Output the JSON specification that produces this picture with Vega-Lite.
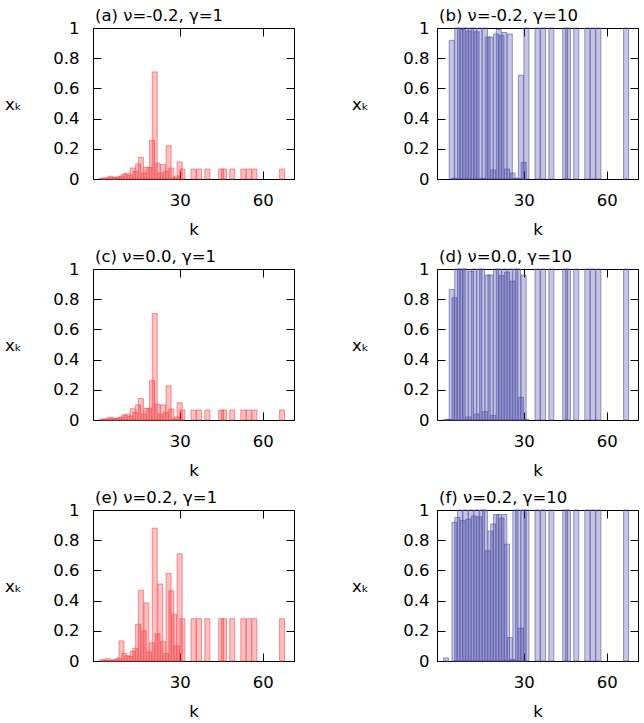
{
"$schema": "https://vega.github.io/schema/vega-lite/v6.json",
"padding": {"left": 4, "top": 7, "right": 0, "bottom": 0},
"data": {"values": [
{"p":"a","k":2,"x":0.007},{"p":"a","k":3,"x":0.004},{"p":"a","k":4,"x":0.008},{"p":"a","k":5,"x":0.018},{"p":"a","k":6,"x":0.01},{"p":"a","k":7,"x":0.011},{"p":"a","k":8,"x":0.014},{"p":"a","k":9,"x":0.02},{"p":"a","k":10,"x":0.033},{"p":"a","k":11,"x":0.037},{"p":"a","k":12,"x":0.025},{"p":"a","k":13,"x":0.073},{"p":"a","k":14,"x":0.05},{"p":"a","k":15,"x":0.1},{"p":"a","k":16,"x":0.143},{"p":"a","k":17,"x":0.04},{"p":"a","k":18,"x":0.077},{"p":"a","k":19,"x":0.077},{"p":"a","k":20,"x":0.256},{"p":"a","k":21,"x":0.709},{"p":"a","k":22,"x":0.104},{"p":"a","k":23,"x":0.04},{"p":"a","k":24,"x":0.095},{"p":"a","k":25,"x":0.05},{"p":"a","k":26,"x":0.22},{"p":"a","k":27,"x":0.073},{"p":"a","k":28,"x":0.007},{"p":"a","k":29,"x":0.02},{"p":"a","k":30,"x":0.113},{"p":"a","k":31,"x":0.066},{"p":"a","k":35,"x":0.066},{"p":"a","k":37,"x":0.066},{"p":"a","k":40,"x":0.066},{"p":"a","k":45,"x":0.066},{"p":"a","k":46,"x":0.066},{"p":"a","k":49,"x":0.066},{"p":"a","k":53,"x":0.066},{"p":"a","k":55,"x":0.066},{"p":"a","k":57,"x":0.066},{"p":"a","k":67,"x":0.066},
{"p":"c","k":2,"x":0.007},{"p":"c","k":3,"x":0.004},{"p":"c","k":4,"x":0.008},{"p":"c","k":5,"x":0.018},{"p":"c","k":6,"x":0.01},{"p":"c","k":7,"x":0.011},{"p":"c","k":8,"x":0.014},{"p":"c","k":9,"x":0.02},{"p":"c","k":10,"x":0.033},{"p":"c","k":11,"x":0.037},{"p":"c","k":12,"x":0.025},{"p":"c","k":13,"x":0.075},{"p":"c","k":14,"x":0.05},{"p":"c","k":15,"x":0.1},{"p":"c","k":16,"x":0.143},{"p":"c","k":17,"x":0.04},{"p":"c","k":18,"x":0.077},{"p":"c","k":19,"x":0.077},{"p":"c","k":20,"x":0.26},{"p":"c","k":21,"x":0.705},{"p":"c","k":22,"x":0.105},{"p":"c","k":23,"x":0.04},{"p":"c","k":24,"x":0.1},{"p":"c","k":25,"x":0.05},{"p":"c","k":26,"x":0.226},{"p":"c","k":27,"x":0.073},{"p":"c","k":28,"x":0.007},{"p":"c","k":29,"x":0.02},{"p":"c","k":30,"x":0.114},{"p":"c","k":31,"x":0.066},{"p":"c","k":35,"x":0.066},{"p":"c","k":37,"x":0.066},{"p":"c","k":40,"x":0.066},{"p":"c","k":45,"x":0.066},{"p":"c","k":46,"x":0.066},{"p":"c","k":49,"x":0.066},{"p":"c","k":53,"x":0.066},{"p":"c","k":55,"x":0.066},{"p":"c","k":57,"x":0.066},{"p":"c","k":67,"x":0.066},
{"p":"e","k":2,"x":0.009},{"p":"e","k":3,"x":0.005},{"p":"e","k":4,"x":0.015},{"p":"e","k":5,"x":0.004},{"p":"e","k":6,"x":0.007},{"p":"e","k":7,"x":0.01},{"p":"e","k":8,"x":0.02},{"p":"e","k":9,"x":0.133},{"p":"e","k":10,"x":0.05},{"p":"e","k":11,"x":0.035},{"p":"e","k":12,"x":0.03},{"p":"e","k":13,"x":0.066},{"p":"e","k":14,"x":0.084},{"p":"e","k":15,"x":0.243},{"p":"e","k":16,"x":0.469},{"p":"e","k":17,"x":0.2},{"p":"e","k":18,"x":0.385},{"p":"e","k":19,"x":0.06},{"p":"e","k":20,"x":0.12},{"p":"e","k":21,"x":0.88},{"p":"e","k":22,"x":0.18},{"p":"e","k":23,"x":0.51},{"p":"e","k":24,"x":0.128},{"p":"e","k":25,"x":0.05},{"p":"e","k":26,"x":0.58},{"p":"e","k":27,"x":0.465},{"p":"e","k":28,"x":0.31},{"p":"e","k":29,"x":0.1},{"p":"e","k":30,"x":0.71},{"p":"e","k":31,"x":0.28},{"p":"e","k":35,"x":0.28},{"p":"e","k":37,"x":0.28},{"p":"e","k":40,"x":0.28},{"p":"e","k":45,"x":0.28},{"p":"e","k":46,"x":0.28},{"p":"e","k":49,"x":0.28},{"p":"e","k":53,"x":0.28},{"p":"e","k":55,"x":0.28},{"p":"e","k":57,"x":0.28},{"p":"e","k":67,"x":0.28},
{"p":"b","k":4,"x":0.918},{"p":"b","k":5,"x":0.005},{"p":"b","k":6,"x":1},{"p":"b","k":7,"x":1},{"p":"b","k":8,"x":0.99},{"p":"b","k":9,"x":1},{"p":"b","k":10,"x":0.98},{"p":"b","k":11,"x":1},{"p":"b","k":12,"x":1},{"p":"b","k":13,"x":0.975},{"p":"b","k":14,"x":1},{"p":"b","k":15,"x":0.004},{"p":"b","k":16,"x":1},{"p":"b","k":17,"x":0.94},{"p":"b","k":18,"x":0.94},{"p":"b","k":19,"x":0.06},{"p":"b","k":20,"x":0.96},{"p":"b","k":21,"x":0.99},{"p":"b","k":22,"x":0.95},{"p":"b","k":23,"x":0.97},{"p":"b","k":24,"x":0.066},{"p":"b","k":25,"x":0.96},{"p":"b","k":26,"x":0.04},{"p":"b","k":27,"x":0.005},{"p":"b","k":28,"x":0.004},{"p":"b","k":29,"x":0.687},{"p":"b","k":30,"x":0.11},{"p":"b","k":31,"x":1},{"p":"b","k":35,"x":1},{"p":"b","k":37,"x":1},{"p":"b","k":40,"x":1},{"p":"b","k":45,"x":1},{"p":"b","k":46,"x":1},{"p":"b","k":49,"x":1},{"p":"b","k":53,"x":1},{"p":"b","k":55,"x":1},{"p":"b","k":57,"x":1},{"p":"b","k":67,"x":1},
{"p":"d","k":2,"x":0.004},{"p":"d","k":3,"x":0.004},{"p":"d","k":4,"x":0.864},{"p":"d","k":5,"x":0.81},{"p":"d","k":6,"x":1},{"p":"d","k":7,"x":1},{"p":"d","k":8,"x":1},{"p":"d","k":9,"x":1},{"p":"d","k":10,"x":0.02},{"p":"d","k":11,"x":0.985},{"p":"d","k":12,"x":1},{"p":"d","k":13,"x":0.04},{"p":"d","k":14,"x":1},{"p":"d","k":15,"x":1},{"p":"d","k":16,"x":0.055},{"p":"d","k":17,"x":0.96},{"p":"d","k":18,"x":0.96},{"p":"d","k":19,"x":0.03},{"p":"d","k":20,"x":1},{"p":"d","k":21,"x":1},{"p":"d","k":22,"x":0.956},{"p":"d","k":23,"x":1},{"p":"d","k":24,"x":0.98},{"p":"d","k":25,"x":1},{"p":"d","k":26,"x":0.92},{"p":"d","k":27,"x":1},{"p":"d","k":28,"x":1},{"p":"d","k":29,"x":0.15},{"p":"d","k":30,"x":0.96},{"p":"d","k":31,"x":0.003},{"p":"d","k":35,"x":1},{"p":"d","k":37,"x":1},{"p":"d","k":40,"x":1},{"p":"d","k":45,"x":1},{"p":"d","k":46,"x":1},{"p":"d","k":49,"x":1},{"p":"d","k":53,"x":1},{"p":"d","k":55,"x":1},{"p":"d","k":57,"x":1},{"p":"d","k":67,"x":1},
{"p":"f","k":2,"x":0.02},{"p":"f","k":5,"x":0.918},{"p":"f","k":6,"x":0.95},{"p":"f","k":7,"x":1},{"p":"f","k":8,"x":0.93},{"p":"f","k":9,"x":1},{"p":"f","k":10,"x":0.94},{"p":"f","k":11,"x":1},{"p":"f","k":12,"x":0.96},{"p":"f","k":13,"x":1},{"p":"f","k":14,"x":0.955},{"p":"f","k":15,"x":1},{"p":"f","k":16,"x":1},{"p":"f","k":17,"x":0.73},{"p":"f","k":18,"x":0.86},{"p":"f","k":19,"x":0.907},{"p":"f","k":20,"x":0.97},{"p":"f","k":21,"x":0.97},{"p":"f","k":22,"x":0.947},{"p":"f","k":23,"x":0.97},{"p":"f","k":24,"x":0.774},{"p":"f","k":25,"x":0.155},{"p":"f","k":26,"x":0.01},{"p":"f","k":27,"x":1},{"p":"f","k":28,"x":1},{"p":"f","k":29,"x":0.217},{"p":"f","k":30,"x":1},{"p":"f","k":31,"x":1},{"p":"f","k":35,"x":1},{"p":"f","k":37,"x":1},{"p":"f","k":40,"x":1},{"p":"f","k":45,"x":1},{"p":"f","k":46,"x":1},{"p":"f","k":49,"x":1},{"p":"f","k":53,"x":1},{"p":"f","k":55,"x":1},{"p":"f","k":57,"x":1},{"p":"f","k":67,"x":1}
]},
"columns": 2,
"spacing": {"row": 90, "column": 143},
"bounds": "flush",
"concat": [
{"width": 201, "height": 151, "title": {"text": "(a) ν=-0.2, γ=1"}, "transform": [{"filter": "datum.p == 'a'"}],
 "layer": [
  {"mark": {"type": "bar", "orient": "vertical", "width": 5, "fill": "#ff0000", "fillOpacity": 0.25, "stroke": "#e8505a", "strokeWidth": 0.6},
   "encoding": {"x": {"field": "k", "type": "quantitative", "scale": {"domain": [0.5, 69.5], "nice": false, "zero": false}, "axis": {"orient": "bottom", "values": [30, 60], "title": "k"}},
                "y": {"field": "x", "type": "quantitative", "scale": {"domain": [0, 1], "nice": false}, "axis": {"orient": "left", "values": [0, 0.2, 0.4, 0.6, 0.8, 1], "title": "xₖ", "labelPadding": 22, "titleX": -80}}}},
  {"mark": {"type": "bar", "orient": "vertical", "width": 5, "opacity": 0},
   "encoding": {"x": {"field": "k", "type": "quantitative", "axis": {"orient": "top", "values": [30, 60], "labels": false, "title": null, "labelPadding": 0}},
                "y": {"field": "x", "type": "quantitative", "axis": {"orient": "right", "values": [0, 0.2, 0.4, 0.6, 0.8, 1], "labels": false, "title": null, "labelPadding": 0}}}}
 ],
 "resolve": {"axis": {"x": "independent", "y": "independent"}}},
{"width": 201, "height": 151, "title": {"text": "(b) ν=-0.2, γ=10"}, "transform": [{"filter": "datum.p == 'b'"}],
 "layer": [
  {"mark": {"type": "bar", "orient": "vertical", "width": 5, "fill": "#1a1a90", "fillOpacity": 0.25, "stroke": "#5252a6", "strokeWidth": 0.6},
   "encoding": {"x": {"field": "k", "type": "quantitative", "scale": {"domain": [0.5, 69.5], "nice": false, "zero": false}, "axis": {"orient": "bottom", "values": [30, 60], "title": "k"}},
                "y": {"field": "x", "type": "quantitative", "scale": {"domain": [0, 1], "nice": false}, "axis": {"orient": "left", "values": [0, 0.2, 0.4, 0.6, 0.8, 1], "title": "xₖ", "labelPadding": 16, "titleX": -77}}}},
  {"mark": {"type": "bar", "orient": "vertical", "width": 5, "opacity": 0},
   "encoding": {"x": {"field": "k", "type": "quantitative", "axis": {"orient": "top", "values": [30, 60], "labels": false, "title": null, "labelPadding": 0}},
                "y": {"field": "x", "type": "quantitative", "axis": {"orient": "right", "values": [0, 0.2, 0.4, 0.6, 0.8, 1], "labels": false, "title": null, "labelPadding": 0}}}}
 ],
 "resolve": {"axis": {"x": "independent", "y": "independent"}}},
{"width": 201, "height": 151, "title": {"text": "(c) ν=0.0, γ=1"}, "transform": [{"filter": "datum.p == 'c'"}],
 "layer": [
  {"mark": {"type": "bar", "orient": "vertical", "width": 5, "fill": "#ff0000", "fillOpacity": 0.25, "stroke": "#e8505a", "strokeWidth": 0.6},
   "encoding": {"x": {"field": "k", "type": "quantitative", "scale": {"domain": [0.5, 69.5], "nice": false, "zero": false}, "axis": {"orient": "bottom", "values": [30, 60], "title": "k"}},
                "y": {"field": "x", "type": "quantitative", "scale": {"domain": [0, 1], "nice": false}, "axis": {"orient": "left", "values": [0, 0.2, 0.4, 0.6, 0.8, 1], "title": "xₖ", "labelPadding": 22, "titleX": -80}}}},
  {"mark": {"type": "bar", "orient": "vertical", "width": 5, "opacity": 0},
   "encoding": {"x": {"field": "k", "type": "quantitative", "axis": {"orient": "top", "values": [30, 60], "labels": false, "title": null, "labelPadding": 0}},
                "y": {"field": "x", "type": "quantitative", "axis": {"orient": "right", "values": [0, 0.2, 0.4, 0.6, 0.8, 1], "labels": false, "title": null, "labelPadding": 0}}}}
 ],
 "resolve": {"axis": {"x": "independent", "y": "independent"}}},
{"width": 201, "height": 151, "title": {"text": "(d) ν=0.0, γ=10"}, "transform": [{"filter": "datum.p == 'd'"}],
 "layer": [
  {"mark": {"type": "bar", "orient": "vertical", "width": 5, "fill": "#1a1a90", "fillOpacity": 0.25, "stroke": "#5252a6", "strokeWidth": 0.6},
   "encoding": {"x": {"field": "k", "type": "quantitative", "scale": {"domain": [0.5, 69.5], "nice": false, "zero": false}, "axis": {"orient": "bottom", "values": [30, 60], "title": "k"}},
                "y": {"field": "x", "type": "quantitative", "scale": {"domain": [0, 1], "nice": false}, "axis": {"orient": "left", "values": [0, 0.2, 0.4, 0.6, 0.8, 1], "title": "xₖ", "labelPadding": 16, "titleX": -77}}}},
  {"mark": {"type": "bar", "orient": "vertical", "width": 5, "opacity": 0},
   "encoding": {"x": {"field": "k", "type": "quantitative", "axis": {"orient": "top", "values": [30, 60], "labels": false, "title": null, "labelPadding": 0}},
                "y": {"field": "x", "type": "quantitative", "axis": {"orient": "right", "values": [0, 0.2, 0.4, 0.6, 0.8, 1], "labels": false, "title": null, "labelPadding": 0}}}}
 ],
 "resolve": {"axis": {"x": "independent", "y": "independent"}}},
{"width": 201, "height": 151, "title": {"text": "(e) ν=0.2, γ=1"}, "transform": [{"filter": "datum.p == 'e'"}],
 "layer": [
  {"mark": {"type": "bar", "orient": "vertical", "width": 5, "fill": "#ff0000", "fillOpacity": 0.25, "stroke": "#e8505a", "strokeWidth": 0.6},
   "encoding": {"x": {"field": "k", "type": "quantitative", "scale": {"domain": [0.5, 69.5], "nice": false, "zero": false}, "axis": {"orient": "bottom", "values": [30, 60], "title": "k"}},
                "y": {"field": "x", "type": "quantitative", "scale": {"domain": [0, 1], "nice": false}, "axis": {"orient": "left", "values": [0, 0.2, 0.4, 0.6, 0.8, 1], "title": "xₖ", "labelPadding": 22, "titleX": -80}}}},
  {"mark": {"type": "bar", "orient": "vertical", "width": 5, "opacity": 0},
   "encoding": {"x": {"field": "k", "type": "quantitative", "axis": {"orient": "top", "values": [30, 60], "labels": false, "title": null, "labelPadding": 0}},
                "y": {"field": "x", "type": "quantitative", "axis": {"orient": "right", "values": [0, 0.2, 0.4, 0.6, 0.8, 1], "labels": false, "title": null, "labelPadding": 0}}}}
 ],
 "resolve": {"axis": {"x": "independent", "y": "independent"}}},
{"width": 201, "height": 151, "title": {"text": "(f) ν=0.2, γ=10"}, "transform": [{"filter": "datum.p == 'f'"}],
 "layer": [
  {"mark": {"type": "bar", "orient": "vertical", "width": 5, "fill": "#1a1a90", "fillOpacity": 0.25, "stroke": "#5252a6", "strokeWidth": 0.6},
   "encoding": {"x": {"field": "k", "type": "quantitative", "scale": {"domain": [0.5, 69.5], "nice": false, "zero": false}, "axis": {"orient": "bottom", "values": [30, 60], "title": "k"}},
                "y": {"field": "x", "type": "quantitative", "scale": {"domain": [0, 1], "nice": false}, "axis": {"orient": "left", "values": [0, 0.2, 0.4, 0.6, 0.8, 1], "title": "xₖ", "labelPadding": 16, "titleX": -77}}}},
  {"mark": {"type": "bar", "orient": "vertical", "width": 5, "opacity": 0},
   "encoding": {"x": {"field": "k", "type": "quantitative", "axis": {"orient": "top", "values": [30, 60], "labels": false, "title": null, "labelPadding": 0}},
                "y": {"field": "x", "type": "quantitative", "axis": {"orient": "right", "values": [0, 0.2, 0.4, 0.6, 0.8, 1], "labels": false, "title": null, "labelPadding": 0}}}}
 ],
 "resolve": {"axis": {"x": "independent", "y": "independent"}}}
],
"config": {
 "font": "DejaVu Sans",
 "view": {"stroke": "#000000", "strokeWidth": 1},
 "axis": {"domain": false, "grid": false, "format": "~f", "tickColor": "#000000", "tickSize": -8, "tickWidth": 1, "labelFont": "DejaVu Sans", "labelFontSize": 16.5, "labelColor": "#000000", "titleFont": "DejaVu Sans", "titleFontSize": 16.5, "titleFontWeight": "normal", "titleColor": "#000000"},
 "axisX": {"labelPadding": 21, "titleY": 55, "titleBaseline": "alphabetic"},
 "axisY": {"titleAngle": 0, "titleAlign": "center", "titleBaseline": "middle", "titleY": 76},
 "title": {"anchor": "start", "frame": "group", "dx": 2, "font": "DejaVu Sans", "fontSize": 16.5, "fontWeight": "normal", "color": "#000000", "baseline": "alphabetic", "offset": -4}
}
}
